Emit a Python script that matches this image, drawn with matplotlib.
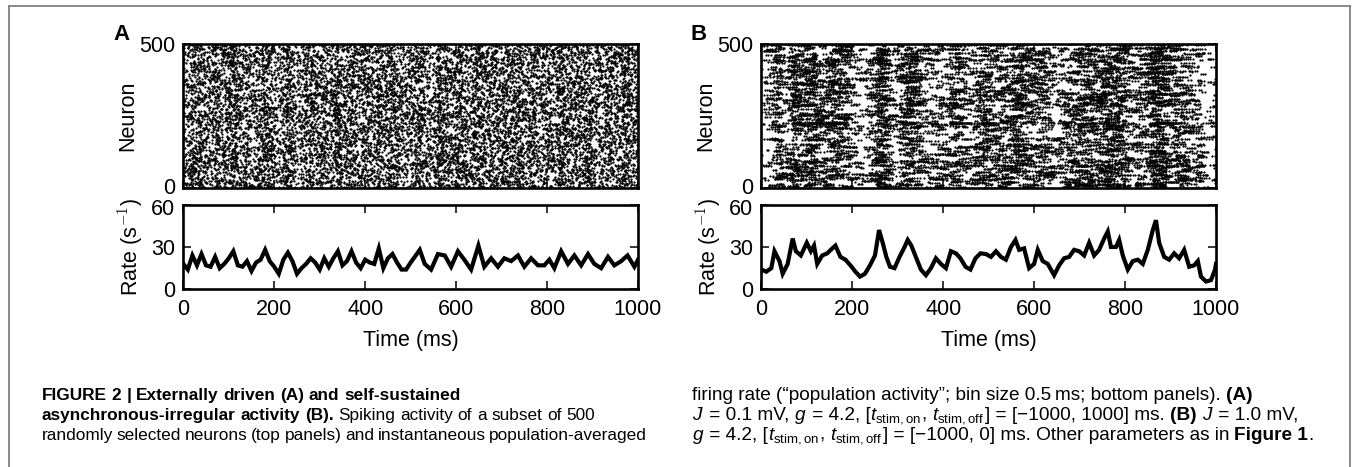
import numpy as np
import matplotlib
matplotlib.use("Agg")
import matplotlib.pyplot as plt
from matplotlib.lines import Line2D
from matplotlib.transforms import ScaledTranslation
from matplotlib import font_manager

# ---------------- data ----------------
rate_a_time = [0, 10, 20, 30, 40, 50, 60, 70, 80, 90, 100, 110, 120, 130, 140, 150, 160, 170, 180, 190,
               200, 210, 220, 230, 240, 250, 260, 270, 280, 290, 300, 310, 320, 330, 340, 350, 360, 370,
               380, 390, 400, 410, 420, 430, 440, 450, 460, 470, 480, 490, 500, 509, 520, 531, 545, 560,
               575, 589, 604, 618, 633, 649, 662, 677, 692, 706, 721, 736, 750, 765, 780, 794, 805, 816,
               831, 846, 860, 875, 890, 904, 919, 934, 948, 963, 977, 992, 1000]
rate_a_hz = [18, 14, 24, 17, 25, 17, 16, 23, 15, 18, 22, 27, 17, 16, 20, 13, 19, 21, 28, 20,
             16, 11, 21, 26, 20, 11, 15, 18, 22, 19, 14, 22, 16, 22, 27, 17, 20, 27,
             19, 15, 21, 19, 18, 29, 15, 22, 25, 19, 14, 14, 19, 23, 28, 18, 14, 25,
             24, 16, 27, 21, 14, 31, 16, 22, 16, 22, 20, 24, 16, 22, 17, 17, 21, 15,
             27, 18, 24, 17, 25, 18, 15, 23, 17, 20, 24, 16, 21]

rate_b_time = [0, 11, 22, 29, 40, 47, 58, 69, 76, 87, 100, 109, 116, 123, 134, 145, 156, 163, 174, 185,
               196, 207, 217, 228, 239, 250, 259, 267, 275, 283, 293, 304, 315, 322, 330, 341, 351, 362,
               373, 384, 395, 406, 417, 428, 438, 449, 460, 471, 482, 494, 505, 516, 527, 538, 549, 559,
               567, 578, 589, 600, 608, 619, 630, 644, 655, 666, 677, 688, 699, 710, 721, 732, 743, 754,
               762, 769, 780, 787, 795, 806, 817, 828, 839, 850, 861, 868, 875, 886, 897, 908, 919, 930,
               941, 952, 960, 967, 978, 989, 998, 1000]
rate_b_hz = [14, 12.5, 15, 27, 20, 11, 18, 36, 27, 24, 33, 27, 31, 18, 24, 25.5, 29, 31, 23, 21,
             17, 12.5, 9, 11, 17, 24, 42, 33, 23, 16, 15, 23, 30, 35, 31, 22, 14, 10,
             15, 22, 18, 15, 27, 25.5, 22, 16, 14, 22, 25.5, 25, 23, 27, 23, 21, 30, 35,
             28, 29, 15, 18, 28, 20, 18, 10, 17, 22, 23, 28, 27, 24, 33, 24, 28, 36,
             41, 30, 30, 35, 24, 14, 20, 21, 18, 28, 42, 49, 33, 23, 21, 25.5, 22, 28,
             16, 17, 20, 9, 5.5, 6.5, 14, 18]

time_ticks = [0, 200, 400, 600, 800, 1000]
neuron_ticks = [0, 500]
rate_ticks = [0, 30, 60]
n_neurons = 500
panel_letters = ["A", "B"]

# Individual raster dots cannot be read from the picture; they are
# synthesised (fixed seed) with a time density that follows the read rate traces.
rng = np.random.default_rng(11)


def raster_a():
    tg = np.arange(0, 1000, 0.5)
    d = np.interp(tg, rate_a_time, rate_a_hz)
    n = int(np.mean(rate_a_hz) * n_neurons * 1.35)
    t = rng.choice(tg, size=n, p=d / d.sum()) + rng.uniform(0, 0.5, n)
    y = rng.integers(0, n_neurons, n) + rng.uniform(0, 1, n)
    return t, y


def raster_b():
    tg = np.arange(0, 1000, 0.5)
    d = np.interp(tg, rate_b_time, rate_b_hz) ** 1.2
    w = rng.gamma(2.5, 1.0, n_neurons)
    n_spk = int(np.mean(rate_b_hz) * n_neurons * 1.25)
    ts, ys = [], []
    total = 0
    while total < n_spk:
        t0 = rng.choice(tg, p=d / d.sum())
        nrn = rng.choice(n_neurons, p=w / w.sum())
        k = 1 + rng.poisson(1.8)
        isi = rng.uniform(3, 7, k)
        tt = t0 + np.cumsum(isi) - isi[0]
        tt = tt[tt < 1000]
        ts.append(tt)
        ys.append(np.full(len(tt), nrn + rng.uniform(0, 1)))
        total += len(tt)
    return np.concatenate(ts), np.concatenate(ys)


plt.rcParams["font.family"] = ["Liberation Sans", "DejaVu Sans"]
plt.rcParams["mathtext.fontset"] = "cm"

W, H = 1355, 467
fig = plt.figure(figsize=(W / 100, H / 100), dpi=100)

# outer frame
kw = dict(color="#808080", lw=1.3, transform=fig.transFigure)
fig.add_artist(Line2D([8.5 / W, 1349.5 / W], [1 - 5.5 / H, 1 - 5.5 / H], **kw))
fig.add_artist(Line2D([8.5 / W, 8.5 / W], [0, 1 - 5.5 / H], **kw))
fig.add_artist(Line2D([1349.5 / W, 1349.5 / W], [0, 1 - 5.5 / H], **kw))

FS = 15.5
lefts = [183.3, 761.3]
aw = 454.7
rasters = [raster_a(), raster_b()]
rates = [(rate_a_time, rate_a_hz), (rate_b_time, rate_b_hz)]
letter_x = [122, 699]

for i in range(2):
    x0 = lefts[i] / W
    axr = fig.add_axes([x0, 1 - 188 / H, aw / W, (188 - 44) / H])
    axq = fig.add_axes([x0, 1 - 289.3 / H, aw / W, (289.3 - 204.7) / H])

    t, y = rasters[i]
    axr.scatter(t, y, s=2.6, c="k", marker="o", linewidths=0)
    axr.set_xlim(0, 1000)
    axr.set_ylim(0, 500)
    axr.set_xticks(time_ticks)
    axr.set_xticklabels([])
    axr.set_yticks(neuron_ticks)
    axr.set_yticklabels([str(v) for v in neuron_ticks])
    axr.set_ylabel("Neuron", fontsize=FS)
    axr.yaxis.set_label_coords(-0.098, 0.5)

    tt, rr = rates[i]
    axq.plot(tt, rr, color="k", lw=3.0, solid_joinstyle="miter")
    axq.set_xlim(0, 1000)
    axq.set_ylim(0, 60)
    axq.set_xticks(time_ticks)
    axq.set_xticklabels([str(v) for v in time_ticks])
    axq.set_yticks(rate_ticks)
    axq.set_yticklabels([str(v) for v in rate_ticks])
    axq.set_ylabel(r"Rate (s$^{-1}$)", fontsize=FS)
    axq.yaxis.set_label_coords(-0.085, 0.5)
    axq.set_xlabel("Time (ms)", fontsize=FS, labelpad=7)

    for ax in (axr, axq):
        for s in ax.spines.values():
            s.set_linewidth(1.9)
        ax.tick_params(direction="in", top=True, right=True, length=6, width=1.1,
                       labelsize=FS, pad=6)
        ax.tick_params(axis="x", pad=7)

    # keep the raster's "0" and the rate axis' "60" from colliding
    for lbl in axr.get_yticklabels():
        if lbl.get_text() == "0":
            lbl.set_transform(lbl.get_transform() + ScaledTranslation(0, 1.5 / 72, fig.dpi_scale_trans))
    for lbl in axq.get_yticklabels():
        if lbl.get_text() == "60":
            lbl.set_transform(lbl.get_transform() + ScaledTranslation(0, -2.0 / 72, fig.dpi_scale_trans))

    fig.text(letter_x[i] / W, 1 - 34 / H, panel_letters[i], fontsize=16,
             fontweight="bold", ha="center", va="center")

# ---------------- caption ----------------
fig.canvas.draw()
renderer = fig.canvas.get_renderer()
names = {f.name for f in font_manager.fontManager.ttflist}
cap_name = "Liberation Sans Narrow" if "Liberation Sans Narrow" in names else "Liberation Sans"
cap_font = [cap_name, "DejaVu Sans"]
plt.rcParams["mathtext.fontset"] = "custom"
plt.rcParams["mathtext.rm"] = cap_name
plt.rcParams["mathtext.it"] = cap_name + ":italic"
plt.rcParams["mathtext.bf"] = cap_name + ":bold"


def draw_line(segs, xpx, ypx, size, space=None, keep=True):
    x = xpx
    if space is None:
        space = 0.278 * size * 100 / 72
    arts = []
    for s, weight in segs:
        if s == " ":
            x += space
            continue
        t = fig.text(x / W, 1 - ypx / H, s, fontsize=size, family=cap_font,
                     fontweight=weight, va="baseline", ha="left")
        x += t.get_window_extent(renderer).width
        arts.append(t)
    if not keep:
        for a in arts:
            a.remove()
    return x


def words(text, weight):
    out = []
    for j, w in enumerate(text.split(" ")):
        if j:
            out.append((" ", None))
        out.append((w, weight))
    return out


left_lines = [
    words("FIGURE 2 | Externally driven (A) and self-sustained", "bold"),
    words("asynchronous-irregular activity (B).", "bold") + [(" ", None)]
    + words("Spiking activity of a subset of 500", "normal"),
    words("randomly selected neurons (top panels) and instantaneous population-averaged", "normal"),
]
right_lines = [
    [("firing rate (\u201cpopulation activity\u201d; bin size 0.5\u2009ms; bottom panels).", "normal"),
     (" ", None), ("(A)", "bold")],
    [(r"$J$", "normal"), (" = 0.1 mV, ", "normal"), (r"$g$", "normal"),
     (" = 4.2, [", "normal"), (r"$t_{\mathrm{stim,on}}$", "normal"), (", ", "normal"),
     (r"$t_{\mathrm{stim,off}}$", "normal"), ("] = [\u22121000, 1000] ms.", "normal"),
     (" ", None), ("(B)", "bold"), (" ", None), (r"$J$", "normal"),
     (" = 1.0 mV,", "normal")],
    [(r"$g$", "normal"), (" = 4.2, [", "normal"), (r"$t_{\mathrm{stim,on}}$", "normal"),
     (", ", "normal"), (r"$t_{\mathrm{stim,off}}$", "normal"),
     ("] = [\u22121000, 0] ms. Other parameters as in", "normal"), (" ", None),
     ("Figure 1", "bold"), (".", "normal")],
]

LX, RX = 42, 692
baselines = [400, 420, 440]

endL = draw_line(left_lines[0], LX, 400, 10.0, keep=False)
CSL = 10.0 * (462 - LX) / (endL - LX)
endR = draw_line(right_lines[1], RX, 420, 10.0, keep=False)
CSR = 10.0 * (1300 - RX) / (endR - RX)
for segs, yb in zip(left_lines[:2], baselines[:2]):
    draw_line(segs, LX, yb, CSL)
nat = 0.278 * CSL * 100 / 72
draw_line(left_lines[2], LX, 440, CSL, space=nat * 0.75)
for segs, yb in zip(right_lines, baselines):
    draw_line(segs, RX, yb, CSR)

fig.savefig("out.png", dpi=100)
